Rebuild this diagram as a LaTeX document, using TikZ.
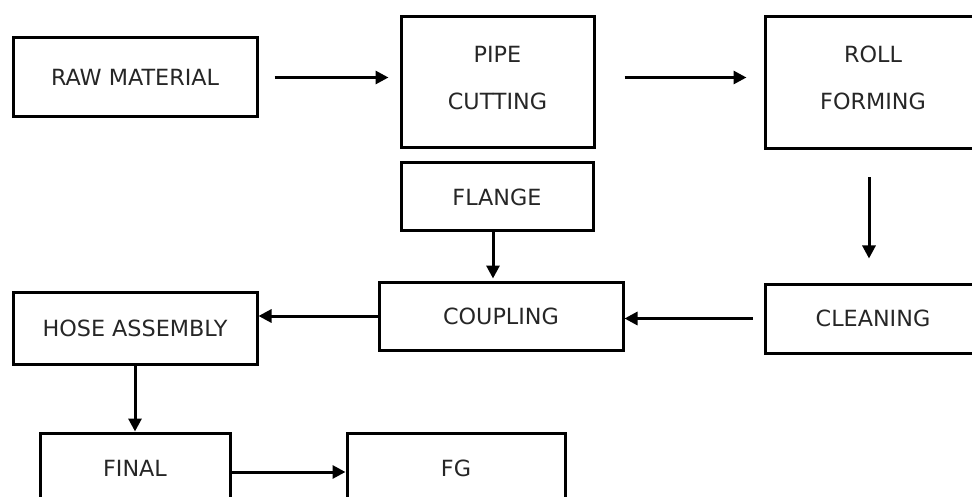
\documentclass[tikz,border=0pt]{standalone}
\usepackage{fontspec}
\setmainfont{DejaVu Sans}
\usetikzlibrary{arrows.meta}
\begin{document}
\begin{tikzpicture}[x=1pt,y=-1pt,
  box/.style={draw=black,line width=3pt,rectangle,inner sep=0pt,align=center,
    text=black!85,font=\fontsize{22.3}{47}\selectfont},
  two/.style={text depth=10pt},
  arr/.style={line width=3pt,-{Triangle[length=13pt,width=13pt]}}]
\clip (0,0) rectangle (972,497);
\fill[white] (0,0) rectangle (972,497);
\node[box,minimum width=244pt,minimum height=79pt] (raw) at (135,77.5) {RAW MATERIAL};
\node[box,two,minimum width=193pt,minimum height=131pt] (pipe) at (497.5,82.5) {PIPE\\CUTTING};
\node[box,two,minimum width=216pt,minimum height=132pt] (roll) at (873,83) {ROLL\\FORMING};
\node[box,minimum width=192pt,minimum height=68pt] (flange) at (497,197) {FLANGE};
\node[box,minimum width=244pt,minimum height=68pt] (coupling) at (501,316) {COUPLING};
\node[box,minimum width=216pt,minimum height=69pt] (cleaning) at (873,318.5) {CLEANING};
\node[box,minimum width=244pt,minimum height=72pt] (hose) at (135,328) {HOSE ASSEMBLY};
\node[box,minimum width=190pt,minimum height=70pt] (final) at (135,468) {FINAL};
\node[box,minimum width=218pt,minimum height=70pt] (fg) at (456,468) {FG};
\coordinate (fa) at ([yshift=-4pt]final.east);
\coordinate (rs) at ([xshift=-4pt]roll.south);
\coordinate (fs) at ([xshift=-4pt]flange.south);
\draw[arr,shorten <=16pt,shorten >=11pt] (raw.east) -- (raw.east -| pipe.west);
\draw[arr,shorten <=29pt,shorten >=17pt] (pipe.east |- raw.east) -- (roll.west |- raw.east);
\draw[arr,shorten <=27pt,shorten >=24pt] (rs) -- (rs |- cleaning.north);
\draw[arr,shorten <=11pt] (cleaning.west) -- (coupling.east |- cleaning.west);
\draw[arr] (coupling.west) -- (hose.east |- coupling.west);
\draw[arr,shorten >=2pt] (fs) -- (fs |- coupling.north);
\draw[arr] (hose.south) -- (hose.south |- final.north);
\draw[arr] (fa) -- (fa -| fg.west);
\end{tikzpicture}
\end{document}
